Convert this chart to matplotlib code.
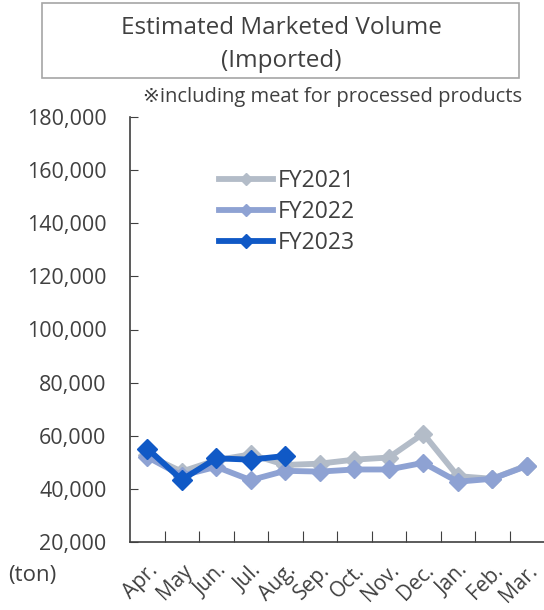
import matplotlib
matplotlib.use("Agg")
import matplotlib.pyplot as plt
from matplotlib.patches import Rectangle
from matplotlib.ticker import FuncFormatter

plt.rcParams['font.family'] = ['Open Sans', 'DejaVu Sans', 'Noto Sans CJK JP']

months = ["Apr.", "May", "Jun.", "Jul.", "Aug.", "Sep.", "Oct.", "Nov.", "Dec.", "Jan.", "Feb.", "Mar."]
fy2021 = [52700, 46500, 50800, 53000, 49000, 49500, 51000, 51800, 60800, 44800, 43800, 48800]
fy2022 = [52000, 45000, 48300, 43300, 46800, 46500, 47300, 47300, 49800, 42700, 43800, 48600]
fy2023 = [55200, 43400, 51500, 51000, 52400]
yticks = [20000, 40000, 60000, 80000, 100000, 120000, 140000, 160000, 180000]

c21 = "#B3BCC8"
c22 = "#8EA2D3"
c23 = "#1059C6"
txt = "#404040"

fig = plt.figure(figsize=(5.44, 6.10), dpi=100)
ax = fig.add_axes([130/544, 1-542/610, 1-130/544, (542-117)/610])

x = list(range(len(months)))
ax.plot(x, fy2021, color=c21, lw=4.2, marker="D", ms=9, label="FY2021", solid_joinstyle="round")
ax.plot(x, fy2022, color=c22, lw=4.2, marker="D", ms=9, label="FY2022", solid_joinstyle="round")
ax.plot(x[:len(fy2023)], fy2023, color=c23, lw=4.2, marker="D", ms=10, label="FY2023", solid_joinstyle="round")

ax.set_xlim(-0.5, 11.5)
ax.set_ylim(20000, 180000)
ax.set_yticks(yticks)
ax.yaxis.set_major_formatter(FuncFormatter(lambda v, p: f"{int(v):,}"))
ax.set_xticks([i + 0.5 for i in range(11)])
ax.set_xticklabels([])
ax.set_xticks(x, minor=True)
ax.set_xticklabels(months, minor=True, rotation=45, ha="right", va="top",
                   rotation_mode="anchor", fontsize=15, color=txt)
ax.tick_params(axis="x", which="minor", length=0, pad=13)
ax.tick_params(axis="x", which="major", direction="in", length=8, color="#404040")
ax.tick_params(axis="y", direction="in", length=6, labelsize=15.5, labelcolor=txt, pad=17, color="#404040")

for s in ["top", "right"]:
    ax.spines[s].set_visible(False)
for s in ["left", "bottom"]:
    ax.spines[s].set_color("#404040")
    ax.spines[s].set_linewidth(1.2)

leg = ax.legend(loc="upper left", bbox_to_anchor=(0.165, 0.926), frameon=False,
                fontsize=16.5, handlelength=2.35, handletextpad=0.2, labelspacing=0.3,
                markerscale=0.7)
for t in leg.get_texts():
    t.set_color(txt)

fig.patches.append(Rectangle((42/544, 1-78/610), (519-42)/544, 75/610,
                             transform=fig.transFigure, fill=False,
                             edgecolor="#A6A6A6", lw=1.2))
fig.text(281/544, 1-28/610, "Estimated Marketed Volume", ha="center", va="center",
         fontsize=17.5, color=txt)
fig.text(281/544, 1-61/610, "(Imported)", ha="center", va="center",
         fontsize=17.5, color=txt)
fig.text(333/544, 1-97/610, "※including meat for processed products", ha="center",
         va="center", fontsize=14.5, color=txt)
fig.text(8/544, 1-576/610, "(ton)", ha="left", va="center", fontsize=16, color=txt)

fig.savefig("out.png", dpi=100)
